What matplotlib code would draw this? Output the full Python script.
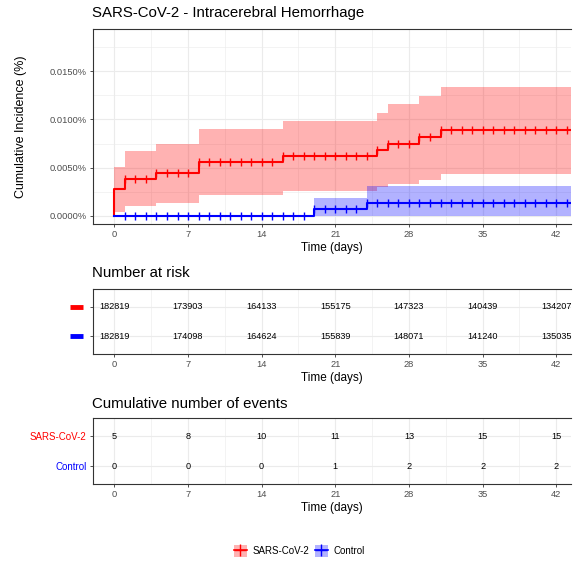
import numpy as np
import matplotlib
matplotlib.use('Agg')
import matplotlib.pyplot as plt
from matplotlib.patches import Patch
from matplotlib.lines import Line2D
import matplotlib.transforms as mtransforms

plt.rcParams['font.family'] = ['Liberation Sans', 'DejaVu Sans']

# cumulative incidence (%) - step changes
covid_days = [0, 1, 4, 8, 16, 25, 26, 29, 31]
covid_est = [0.00277, 0.00386, 0.00447, 0.00560, 0.00621, 0.00686, 0.00750, 0.00818, 0.00888]
covid_upper = [0.00510, 0.00671, 0.00744, 0.00898, 0.00981, 0.01070, 0.01158, 0.01247, 0.01338]
covid_lower = [0.00040, 0.00098, 0.00135, 0.00215, 0.00255, 0.00298, 0.00332, 0.00368, 0.00435]

control_days = [0, 19, 24]
control_est = [0.0, 0.00066, 0.00132]
control_upper = [0.0, 0.00189, 0.00308]
control_lower = [0.0, 0.0, 0.0]

censor_days = [1, 2, 3, 4, 5, 6, 7, 8, 9, 10, 11, 12, 13, 14, 15, 16, 17, 18, 19, 20, 21,
               22, 23, 24, 25, 26, 27, 28, 29, 30, 31, 32, 33, 34, 35, 36, 37, 38, 39, 40, 41, 42, 43]

table_days = [0, 7, 14, 21, 28, 35, 42]
risk_covid = [182819, 173903, 164133, 155175, 147323, 140439, 134207]
risk_control = [182819, 174098, 164624, 155839, 148071, 141240, 135035]
events_covid = [5, 8, 10, 11, 13, 15, 15]
events_control = [0, 0, 0, 1, 2, 2, 2]

XMIN, XMAX = -2.06, 43.4
RED, BLUE = '#FF0000', '#0000FF'
GRID = '#EBEBEB'
BORDER = '#333333'
TICKLAB = '#4D4D4D'


def style_axes(ax):
    for s in ['top', 'left', 'bottom']:
        ax.spines[s].set_color(BORDER)
        ax.spines[s].set_linewidth(0.8)
    ax.spines['right'].set_visible(False)
    ax.tick_params(which='major', colors=BORDER, length=2.5, width=0.6,
                   labelcolor=TICKLAB, labelsize=6.7, pad=2)
    ax.tick_params(which='minor', length=0)
    ax.grid(which='major', color=GRID, lw=0.8)
    ax.grid(which='minor', color=GRID, lw=0.4)
    ax.set_axisbelow(True)
    ax.set_xlim(XMIN, XMAX)
    ax.set_xticks(table_days)
    ax.set_xticks([3.5, 10.5, 17.5, 24.5, 31.5, 38.5], minor=True)
    ax.set_xlabel('Time (days)', fontsize=8.5, labelpad=2)


def step_values(days, vals, at):
    idx = np.searchsorted(days, at, side='right') - 1
    return np.array(vals)[idx]


fig = plt.figure(figsize=(5.82, 5.63), dpi=100)
W, H = 582, 563

def add_ax(top, bottom):
    return fig.add_axes([92.7 / W, 1 - bottom / H, (571 - 92.7) / W, (bottom - top) / H])

# main curve panel
ax = add_ax(29.3, 224)
style_axes(ax)
for days, est, up, lo, col in [(covid_days, covid_est, covid_upper, covid_lower, RED),
                               (control_days, control_est, control_upper, control_lower, BLUE)]:
    t = list(days) + [XMAX]
    ax.fill_between(t, list(lo) + [lo[-1]], list(up) + [up[-1]], step='post',
                    color=col, alpha=0.3, lw=0)
    ax.plot([0] + t, [0] + list(est) + [est[-1]], drawstyle='steps-post', color=col, lw=1.5)
    ax.plot(censor_days, step_values(days, est, censor_days), ls='none', marker='|',
            color=col, ms=5.5, mew=1)
ax.set_ylim(-0.00086, 0.01937)
ax.set_yticks([0, 0.005, 0.01, 0.015])
ax.set_yticks([0.0025, 0.0075, 0.0125, 0.0175], minor=True)
ax.set_yticklabels(['0.0000%', '0.0050%', '0.0100%', '0.0150%'])
ax.set_ylabel('Cumulative Incidence (%)', fontsize=9, labelpad=16)

# number at risk table
ax2 = add_ax(289, 354)
style_axes(ax2)
ax2.set_ylim(-0.6, 1.6)
ax2.set_yticks([0, 1])
ax2.set_yticklabels(['', ''])
for d, a, b in zip(table_days, risk_covid, risk_control):
    ax2.text(d, 1, str(a), ha='center', va='center', fontsize=6.6, color='black')
    ax2.text(d, 0, str(b), ha='center', va='center', fontsize=6.6, color='black')
tr = mtransforms.blended_transform_factory(ax2.transAxes, ax2.transData)
for yy, col in [(1, RED), (0, BLUE)]:
    ax2.plot([-0.0475, -0.0203], [yy, yy], transform=tr, color=col, lw=3.5,
             solid_capstyle='butt', clip_on=False)

# cumulative events table
ax3 = add_ax(418.3, 484)
style_axes(ax3)
ax3.set_ylim(-0.6, 1.6)
ax3.set_yticks([0, 1])
ax3.set_yticklabels(['Control', 'SARS-CoV-2'], fontsize=7)
for lab, col in zip(ax3.get_yticklabels(), [BLUE, RED]):
    lab.set_color(col)
for d, a, b in zip(table_days, events_covid, events_control):
    ax3.text(d, 1, str(a), ha='center', va='center', fontsize=6.6, color='black')
    ax3.text(d, 0, str(b), ha='center', va='center', fontsize=6.6, color='black')

# titles
fig.text(92 / W, 1 - 13.5 / H, 'SARS-CoV-2 - Intracerebral Hemorrhage', fontsize=10.8,
         ha='left', va='center')
fig.text(92 / W, 1 - 273 / H, 'Number at risk', fontsize=10.8, ha='left', va='center')
fig.text(92 / W, 1 - 404 / H, 'Cumulative number of events', fontsize=10.8,
         ha='left', va='center')

# legend
handles = [(Patch(facecolor=RED, alpha=0.3, lw=0), Line2D([], [], color=RED, marker='+', lw=1.2, ms=8)),
           (Patch(facecolor=BLUE, alpha=0.3, lw=0), Line2D([], [], color=BLUE, marker='+', lw=1.2, ms=8))]
fig.legend(handles, ['SARS-CoV-2', 'Control'], loc='center', bbox_to_anchor=(299 / W, 1 - 551 / H),
           ncol=2, frameon=False, fontsize=7, handlelength=1.4, handleheight=1.4,
           columnspacing=0.6, handletextpad=0.5)

fig.savefig('out.png', dpi=100)
